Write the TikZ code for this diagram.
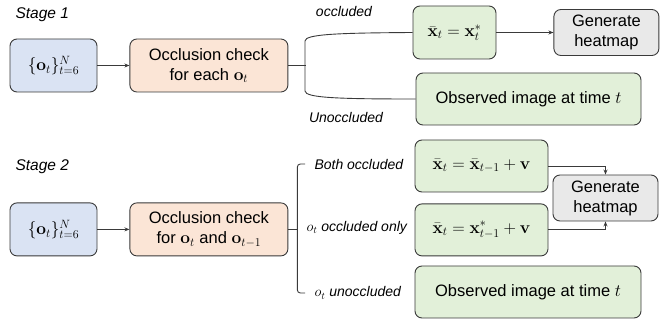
\documentclass[tikz,border=0pt]{standalone}
\usepackage{amsmath,amssymb}
\usepackage[no-math]{fontspec}
\setmainfont{Liberation Sans}
\usepackage{xcolor}
\usetikzlibrary{positioning,calc,arrows.meta}
\definecolor{inblue}{HTML}{DAE3F3}
\definecolor{chkorange}{HTML}{FBE5D6}
\definecolor{outgreen}{HTML}{E2F0D9}
\definecolor{heatgray}{HTML}{E9E9E9}
\definecolor{edgegray}{HTML}{3A3A3A}

\begin{document}
\begin{tikzpicture}[x=1pt, y=-1pt, node distance=32pt,
        block/.style={rectangle, draw=edgegray, line width=0.9pt, rounded corners=7pt, align=center, inner sep=2pt, minimum height=53pt, font=\fontsize{16.5}{20}\selectfont},
        line/.style={draw=edgegray, line width=0.9pt},
        arrow/.style={line, -{Stealth[length=5pt,width=4pt]}},
        tag/.style={font=\fontsize{14}{16}\selectfont\itshape},
        stage/.style={font=\fontsize{15.5}{18}\selectfont\itshape}]

        \useasboundingbox (0,0) rectangle (662,320);

        \node [stage, anchor=west] (s1) at (12,15) {Stage 1};
        \node [block, fill=inblue, minimum width=87pt] (in1) at (53.5,65.5) {$\{\mathbf{o}_t\}_{t=6}^{N}$};
        \node [block, fill=chkorange, minimum width=158pt, right=of in1] (chk1) {Occlusion check\\for each $\mathbf{o}_t$};
        \node [block, fill=outgreen, minimum width=83pt] (g1) at (454.5,32.5) {$\bar{\mathbf{x}}_t = \mathbf{x}_t^{*}$};
        \node [block, fill=heatgray, minimum width=105pt, minimum height=46pt, right=57pt of g1] (heat1) {Generate\\heatmap};
        \node [block, fill=outgreen, minimum width=225pt, minimum height=52pt] (obs1) at (528.5,99) {Observed image at time $t$};

        \node [tag] (occ) at (344,12) {occluded};
        \node [tag] (unocc) at (346,118) {Unoccluded};
        \coordinate (br1) at ($(chk1.east)+(18,0)$);

        \path [arrow] (in1) -- (chk1);
        \path [line] (chk1) -- (br1);
        \path [line] (g1.west) .. controls (340,33) and (305,34) .. (305,41) -- (305,91) .. controls (305,98) and (340,99) .. (obs1.west);
        \path [arrow] (g1) -- (heat1);

        \node [stage, anchor=west] (s2) at (12,167) {Stage 2};
        \node [block, fill=inblue, minimum width=87pt, below=110pt of in1] (in2) {$\{\mathbf{o}_t\}_{t=6}^{N}$};
        \node [block, fill=chkorange, minimum width=158pt, right=of in2] (chk2) {Occlusion check\\for $\mathbf{o}_t$ and $\mathbf{o}_{t-1}$};
        \node [block, fill=outgreen, minimum width=133pt, minimum height=52pt] (g2) at (481.5,166) {$\bar{\mathbf{x}}_t = \bar{\mathbf{x}}_{t-1} + \mathbf{v}$};
        \node [block, fill=outgreen, minimum width=133pt, minimum height=52pt, below=11pt of g2] (g3) {$\bar{\mathbf{x}}_t = \mathbf{x}_{t-1}^{*} + \mathbf{v}$};
        \node [block, fill=heatgray, minimum width=105pt, minimum height=46pt] (heat2) at (605.5,198) {Generate\\heatmap};
        \node [block, fill=outgreen, minimum width=226pt, minimum height=52pt] (obs2) at (528,292) {Observed image at time $t$};

        \node [tag, anchor=west] (bothlab) at (311,165) {Both occluded};
        \node [tag, anchor=west] (onlylab) at (303,228) {$o_t$ occluded only};
        \node [tag, anchor=west] (unlab) at (311,293) {$o_t$ unoccluded};
        \coordinate (br2) at ($(chk2.east)+(9,0)$);
        \coordinate (both) at (305,164);
        \coordinate (un) at (305,293);

        \path [arrow] (in2) -- (chk2);
        \path [line] (chk2) -- (br2);
        \draw [line, rounded corners=3pt] (both) -- (br2 |- both) -- (br2 |- un) -- (un);
        \path [arrow] (g2.east) -| (heat2.north);
        \path [arrow] (g3.east) -| (heat2.south);

    \end{tikzpicture}
\end{document}
